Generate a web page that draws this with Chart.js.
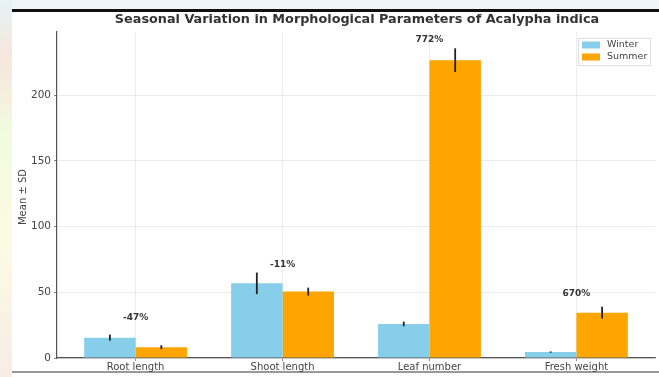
<!DOCTYPE html>
<html>
<head>
<meta charset="utf-8">
<script src="https://cdn.jsdelivr.net/npm/chart.js@4.4.1/dist/chart.umd.min.js"></script>
<style>
  html, body { margin: 0; padding: 0; background: #ffffff; }
  #wrap { width: 659px; height: 377px; position: relative; }
</style>
</head>
<body>
<div id="wrap"><canvas id="myChart" width="659" height="377"></canvas></div>
<script>
'use strict';

/** @desc Categories on the x axis */
const CATEGORIES = ['Root length', 'Shoot length', 'Leaf number', 'Fresh weight'];

/** @desc Winter means and standard deviations */
const WINTER_MEAN = [15.5, 56.8, 25.9, 4.5];
const WINTER_SD = [2.3, 8.2, 1.8, 0.5];

/** @desc Summer means and standard deviations */
const SUMMER_MEAN = [8.2, 50.5, 226.6, 34.5];
const SUMMER_SD = [1.5, 3.0, 9.0, 4.5];

/** @desc Percentage change labels and the value where each one sits */
const PCT_LABELS = ['-47%', '-11%', '772%', '670%'];
const PCT_AT = [30.4, 71.3, 241.8, 49.2];

/** @desc Y axis tick values */
const Y_TICKS = [0, 50, 100, 150, 200];

const FONT = '"DejaVu Sans", sans-serif';
const TEXT_COLOR = '#444444';

/** @desc Frame of the screenshot around the figure, title and axis title */
const frame = {
  id: 'frame',
  beforeDraw(chart) {
    const ctx = chart.ctx;
    ctx.save();
    let g = ctx.createLinearGradient(0, 0, 0, 377);
    g.addColorStop(0, '#e6f3f6');
    g.addColorStop(0.15, '#f6e6dc');
    g.addColorStop(0.35, '#f2fadf');
    g.addColorStop(0.65, '#fbfbe4');
    g.addColorStop(1, '#f7ece4');
    ctx.fillStyle = g;
    ctx.fillRect(0, 0, 12, 377);
    ctx.fillStyle = '#eef6f8';
    ctx.fillRect(12, 0, 647, 10);
    ctx.fillStyle = '#111111';
    ctx.fillRect(12, 9, 647, 3);
    ctx.fillStyle = '#999999';
    ctx.fillRect(12, 371, 647, 2);
    ctx.fillStyle = '#333333';
    ctx.font = 'bold 12.8px ' + FONT;
    ctx.textAlign = 'center';
    ctx.textBaseline = 'middle';
    ctx.fillText('Seasonal Variation in Morphological Parameters of Acalypha indica', 357, 20);
    ctx.translate(23, 197);
    ctx.rotate(-Math.PI / 2);
    ctx.fillStyle = TEXT_COLOR;
    ctx.font = '10px ' + FONT;
    ctx.fillText('Mean ± SD', 0, 0);
    ctx.restore();
  }
};

/** @desc Error bars, change labels and legend */
const extras = {
  id: 'extras',
  afterDatasetsDraw(chart) {
    const ctx = chart.ctx;
    const y = chart.scales.y;
    const sds = [WINTER_SD, SUMMER_SD];
    ctx.save();
    ctx.strokeStyle = '#222222';
    ctx.lineWidth = 1.8;
    chart.data.datasets.forEach((ds, i) => {
      chart.getDatasetMeta(i).data.forEach((bar, j) => {
        const v = ds.data[j].y;
        ctx.beginPath();
        ctx.moveTo(bar.x, y.getPixelForValue(v - sds[i][j]));
        ctx.lineTo(bar.x, y.getPixelForValue(v + sds[i][j]));
        ctx.stroke();
      });
    });
    ctx.fillStyle = '#333333';
    ctx.font = 'bold 9px ' + FONT;
    ctx.textAlign = 'center';
    ctx.textBaseline = 'middle';
    PCT_LABELS.forEach((t, j) => {
      ctx.fillText(t, chart.scales.x.getPixelForValue(j), y.getPixelForValue(PCT_AT[j]));
    });
    // legend
    ctx.fillStyle = 'rgba(255,255,255,0.85)';
    ctx.strokeStyle = '#dddddd';
    ctx.lineWidth = 1;
    ctx.fillRect(578, 38, 72, 27);
    ctx.strokeRect(578.5, 38.5, 72, 27);
    ctx.font = '9.5px ' + FONT;
    ctx.textAlign = 'left';
    chart.data.datasets.forEach((ds, i) => {
      const ry = 45 + i * 12;
      ctx.fillStyle = ds.backgroundColor;
      ctx.fillRect(582, ry - 3.5, 18, 7);
      ctx.fillStyle = TEXT_COLOR;
      ctx.fillText(ds.label, 607, ry);
    });
    ctx.restore();
  }
};

const points = (means) => means.map((m, i) => ({ x: i, y: m }));

const DATA = {
  datasets: [{
    label: 'Winter',
    data: points(WINTER_MEAN),
    backgroundColor: '#87ceeb',
  }, {
    label: 'Summer',
    data: points(SUMMER_MEAN),
    backgroundColor: '#ffa500',
  }]
};

const SCALES = {
  x: {
    type: 'linear',
    min: -0.535,
    max: 3.535,
    offset: false,
    afterBuildTicks(axis) {
      axis.ticks = CATEGORIES.map((c, i) => ({ value: i }));
    },
    afterFit(axis) { axis.height = 19; },
    ticks: {
      callback: (v) => CATEGORIES[v],
      color: TEXT_COLOR,
      font: { family: FONT, size: 10 },
      padding: 0,
      maxRotation: 0,
      autoSkip: false
    },
    grid: { offset: false, color: '#e6e6e6', tickColor: '#666666', tickLength: 3, lineWidth: 0.8 },
    border: { color: '#555555', width: 1.2 }
  },
  y: {
    min: 0,
    max: 248,
    afterBuildTicks(axis) {
      axis.ticks = Y_TICKS.map((v) => ({ value: v }));
    },
    afterFit(axis) { axis.width = 57; },
    ticks: {
      color: TEXT_COLOR,
      font: { family: FONT, size: 10.5 },
      padding: 3
    },
    grid: { color: '#e6e6e6', tickColor: '#666666', tickLength: 3, lineWidth: 0.8 },
    border: { color: '#555555', width: 1.2 }
  }
};

const CONFIG = {
  type: 'bar',
  data: DATA,
  options: {
    responsive: false,
    animation: false,
    grouped: true,
    categoryPercentage: 0.7,
    barPercentage: 1.0,
    layout: { padding: { left: 0, right: 4, top: 32, bottom: 0 } },
    plugins: {
      legend: { display: false },
      tooltip: { enabled: false }
    },
    scales: SCALES
  },
  plugins: [frame, extras]
};

const CTX = document.getElementById('myChart').getContext('2d');
let myChart = new Chart(CTX, CONFIG);
</script>
</body>
</html>
